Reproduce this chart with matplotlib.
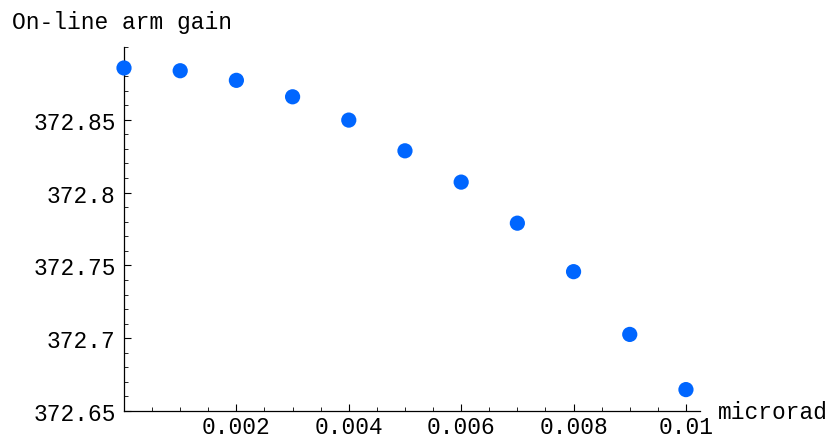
import matplotlib.pyplot as plt
import numpy as np
from matplotlib.ticker import MultipleLocator

angle = [0.0, 0.001, 0.002, 0.003, 0.004, 0.005, 0.006, 0.007, 0.008, 0.009, 0.01]
gain = [372.8856, 372.8837, 372.8771, 372.8658, 372.8498, 372.8287,
        372.8072, 372.7790, 372.7457, 372.7026, 372.6647]

xticks = [0.002, 0.004, 0.006, 0.008, 0.01]
xticklabels = ["0.002", "0.004", "0.006", "0.008", "0.01"]
yticks = [372.65, 372.7, 372.75, 372.8, 372.85]
yticklabels = ["372.65", "372.7", "372.75", "372.8", "372.85"]

plt.rcParams["font.family"] = ["Liberation Mono", "DejaVu Sans Mono"]
fs = 16.5

fig = plt.figure(figsize=(8.35, 4.35), dpi=100)
ax = fig.add_axes([124 / 835, (435 - 412) / 435, (700 - 124) / 835, (412 - 48) / 435])

ax.scatter(angle, gain, s=120, color="#0066ff", edgecolors="none", zorder=3, clip_on=False)

ax.set_xlim(0, 0.01025)
ax.set_ylim(372.65, 372.90)

ax.set_xticks(xticks)
ax.set_xticklabels(xticklabels, fontsize=fs)
ax.set_yticks(yticks)
ax.set_yticklabels(yticklabels, fontsize=fs)
ax.xaxis.set_minor_locator(MultipleLocator(0.0005))
ax.yaxis.set_minor_locator(MultipleLocator(0.01))

ax.tick_params(which="major", direction="in", length=5, width=0.8)
ax.tick_params(which="minor", direction="in", length=3, width=0.6)
ax.tick_params(axis="y", which="major", pad=6)
ax.tick_params(axis="x", which="major", pad=3)

for side in ("top", "right"):
    ax.spines[side].set_visible(False)
for side in ("left", "bottom"):
    ax.spines[side].set_linewidth(0.9)

fig.text(12 / 835, 1 - 22 / 435, "On-line arm gain", fontsize=fs, ha="left", va="center")
fig.text(718 / 835, 1 - 413 / 435, "microrad", fontsize=fs, ha="left", va="center")

fig.savefig("out.png", dpi=100)
